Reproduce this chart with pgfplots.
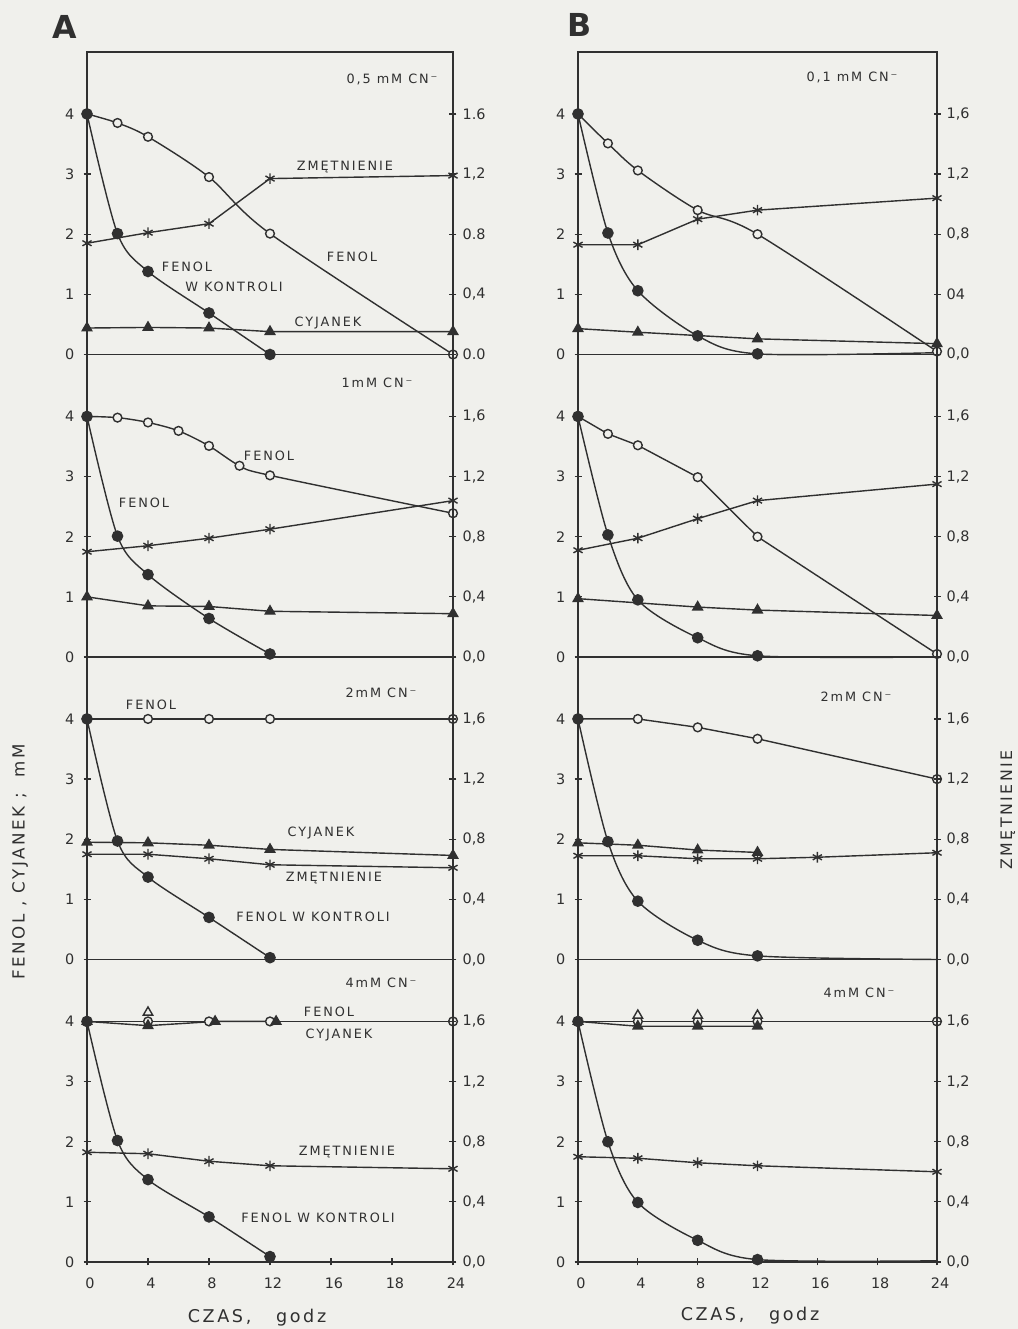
\documentclass[border=0pt]{standalone}
\usepackage{fontspec}
\setmainfont{DejaVu Sans}
\newfontfamily\lett[LetterSpace=15]{DejaVu Sans}
\usepackage{pgfplots}
\pgfplotsset{compat=1.18}
\definecolor{ink}{RGB}{48,48,48}
\definecolor{paper}{RGB}{240,240,236}
\newcommand\lab{\lett\fontsize{7.3}{8}\selectfont}
\newcommand\tlab{\fontsize{8.2}{9}\selectfont}

\pgfplotsset{
  panel/.style={scale only axis, anchor=south west, height=60.5mm,
    xmin=0, xmax=24, ymin=0, ymax=5.03, clip=false,
    axis line style={ink, line width=0.8pt},
    every tick/.style={ink, line width=0.7pt},
    tick align=center, major tick length=1.4mm,
    xtick=\empty, ytick={0,1,2,3,4}, yticklabels={0,1,2,3,4}, ytick pos=left,
    yticklabel style={font=\tlab, text=ink, xshift=-0.6mm},
    xticklabel style={font=\tlab, text=ink, yshift=-1.3mm, xshift=0.6mm}},
  rside/.style={scale only axis, anchor=south west, height=60.5mm,
    xmin=0, xmax=24, ymin=0, ymax=2.012, clip=false,
    axis x line=none, axis y line*=right,
    axis line style={ink, line width=0.8pt},
    every tick/.style={ink, line width=0.7pt},
    tick align=center, major tick length=1.4mm,
    ytick={0,0.4,0.8,1.2,1.6},
    yticklabel style={font=\tlab, text=ink}},
  bottom/.style={xtick={0,4,8,12,16,20,24}, xticklabels={0,4,8,12,16,18,24},
    xtick pos=bottom},
  fen/.style={ink, line width=0.8pt, mark=*, mark size=2.5pt,
    mark options={fill=paper, solid}},
  kon/.style={ink, line width=0.8pt, mark=*, mark size=2.9pt,
    mark options={fill=ink}},
  cyj/.style={ink, line width=0.8pt, mark=triangle*, mark size=3.1pt,
    mark options={fill=ink}},
  zm/.style={ink, line width=0.8pt, mark=asterisk, mark size=3pt},
}

\begin{document}
\begin{tikzpicture}
\path[use as bounding box, fill=paper] (0,0) rectangle (203.6mm,265.8mm);

% ---------- column A ----------
% 0,5 mM
\begin{axis}[panel, at={(17.4mm,194.9mm)}, width=73.2mm]
  \addplot[fen, smooth] coordinates {(0,4)(2,3.85)(4,3.62)(8,2.95)(12,2.01)(24,0.0)};
  \addplot[cyj] coordinates {(0,0.44)(4,0.45)(8,0.44)(12,0.38)(24,0.38)};
  \addplot[kon, smooth] coordinates {(0,4)(2,2.01)(4,1.38)(8,0.69)(12,0.0)};
\end{axis}
\begin{axis}[rside, at={(17.4mm,194.9mm)}, width=73.2mm,
    yticklabels={0.0,{0,4},0.8,{1,2},1.6}]
  \addplot[zm] coordinates {(0,0.74)(4,0.81)(8,0.87)(12,1.17)(24,1.19)};
\end{axis}
% 1 mM
\begin{axis}[panel, at={(17.4mm,134.4mm)}, width=73.2mm]
  \addplot[fen, smooth] coordinates {(0,4)(2,3.98)(4,3.9)(6,3.76)(8,3.51)(10,3.18)(12,3.02)(24,2.39)};
  \addplot[cyj] coordinates {(0,1.0)(4,0.85)(8,0.84)(12,0.76)(24,0.72)};
  \addplot[kon, smooth] coordinates {(0,4)(2,2.01)(4,1.37)(8,0.64)(12,0.05)};
\end{axis}
\begin{axis}[rside, at={(17.4mm,134.4mm)}, width=73.2mm,
    yticklabels={{0,0},{0,4},{0,8},{1,2},{1,6}}]
  \addplot[zm] coordinates {(0,0.70)(4,0.74)(8,0.79)(12,0.85)(24,1.04)};
\end{axis}
% 2 mM
\begin{axis}[panel, at={(17.4mm,73.9mm)}, width=73.2mm]
  \addplot[fen] coordinates {(0,4)(4,4)(8,4)(12,4)(24,4)};
  \addplot[cyj] coordinates {(0,1.95)(4,1.94)(8,1.90)(12,1.83)(24,1.73)};
  \addplot[kon, smooth] coordinates {(0,4)(2,1.97)(4,1.37)(8,0.70)(12,0.03)};
\end{axis}
\begin{axis}[rside, at={(17.4mm,73.9mm)}, width=73.2mm,
    yticklabels={{0,0},{0,4},{0,8},{1,2},{1,6}}]
  \addplot[zm] coordinates {(0,0.70)(4,0.70)(8,0.67)(12,0.63)(24,0.61)};
\end{axis}
% 4 mM
\begin{axis}[panel, bottom, at={(17.4mm,13.4mm)}, width=73.2mm]
  \addplot[fen] coordinates {(0,4)(4,4)(8,4)(12,4)(24,4)};
  \addplot[cyj] coordinates {(0,4)(4,3.93)(8.4,4)(12.4,4)};
  \addplot[cyj, only marks, mark options={fill=paper}] coordinates {(4,4.15)};
  \addplot[kon, smooth] coordinates {(0,4)(2,2.02)(4,1.37)(8,0.75)(12,0.09)};
\end{axis}
\begin{axis}[rside, at={(17.4mm,13.4mm)}, width=73.2mm,
    yticklabels={{0,0},{0,4},{0,8},{1,2},{1,6}}]
  \addplot[zm] coordinates {(0,0.73)(4,0.72)(8,0.67)(12,0.64)(24,0.62)};
\end{axis}

% ---------- column B ----------
% 0,1 mM
\begin{axis}[panel, at={(115.6mm,194.9mm)}, width=71.8mm]
  \addplot[fen, smooth] coordinates {(0,4)(2,3.51)(4,3.06)(8,2.40)(12,2.0)(24,0.05)};
  \addplot[cyj] coordinates {(0,0.43)(4,0.37)(12,0.26)(24,0.18)};
  \addplot[kon, smooth, mark indices={1,2,3,4,5}] coordinates {(0,4)(2,2.02)(4,1.06)(8,0.31)(12,0.01)(24,0.03)};
\end{axis}
\begin{axis}[rside, at={(115.6mm,194.9mm)}, width=71.8mm,
    yticklabels={{0,0},04,{0,8},{1,2},{1,6}}]
  \addplot[zm] coordinates {(0,0.73)(4,0.73)(8,0.90)(12,0.96)(24,1.04)};
\end{axis}
% 1 mM
\begin{axis}[panel, at={(115.6mm,134.4mm)}, width=71.8mm]
  \addplot[fen] coordinates {(0,4)(2,3.71)(4,3.52)(8,2.99)(12,2.0)(24,0.05)};
  \addplot[cyj] coordinates {(0,0.97)(8,0.83)(12,0.78)(24,0.69)};
  \addplot[kon, smooth, mark indices={1,2,3,4,5}] coordinates {(0,4)(2,2.03)(4,0.95)(8,0.32)(12,0.02)(24,0.0)};
\end{axis}
\begin{axis}[rside, at={(115.6mm,134.4mm)}, width=71.8mm,
    yticklabels={{0,0},{0,4},{0,8},{1,2},{1,6}}]
  \addplot[zm] coordinates {(0,0.71)(4,0.79)(8,0.92)(12,1.04)(24,1.15)};
\end{axis}
% 2 mM
\begin{axis}[panel, at={(115.6mm,73.9mm)}, width=71.8mm]
  \addplot[fen] coordinates {(0,4)(4,4.0)(8,3.86)(12,3.67)(24,3.0)};
  \addplot[cyj] coordinates {(0,1.94)(4,1.9)(8,1.82)(12,1.78)};
  \addplot[kon, smooth, mark indices={1,2,3,4,5}] coordinates {(0,4)(2,1.96)(4,0.97)(8,0.32)(12,0.06)(24,0.0)};
\end{axis}
\begin{axis}[rside, at={(115.6mm,73.9mm)}, width=71.8mm,
    yticklabels={{0,0},{0,4},{0,8},{1,2},{1,6}}]
  \addplot[zm] coordinates {(0,0.69)(4,0.69)(8,0.67)(12,0.67)(16,0.68)(24,0.71)};
\end{axis}
% 4 mM
\begin{axis}[panel, bottom, at={(115.6mm,13.4mm)}, width=71.8mm]
  \addplot[fen] coordinates {(0,4)(4,4)(8,4)(12,4)(24,4)};
  \addplot[cyj] coordinates {(0,4)(4,3.92)(8,3.92)(12,3.92)};
  \addplot[cyj, only marks, mark options={fill=paper}] coordinates {(4,4.1)(8,4.1)(12,4.1)};
  \addplot[kon, smooth, mark indices={1,2,3,4,5}] coordinates {(0,4)(2,2.0)(4,0.99)(8,0.36)(12,0.04)(24,0.02)};
\end{axis}
\begin{axis}[rside, at={(115.6mm,13.4mm)}, width=71.8mm,
    yticklabels={{0,0},{0,4},{0,8},{1,2},{1,6}}]
  \addplot[zm] coordinates {(0,0.70)(4,0.69)(8,0.66)(12,0.64)(24,0.60)};
\end{axis}

% ---------- texts (pixel grid of the reference, y from the top) ----------
\begin{scope}[x=0.2mm, y=-0.2mm, shift={(0,265.8mm)}, every node/.style={text=ink, inner sep=0pt}]
  \node[font=\bfseries\fontsize{18}{18}\selectfont] at (65,27) {A};
  \node[font=\bfseries\fontsize{18}{18}\selectfont] at (580,25) {B};

  \node[font=\lab] at (392,80) {0,5 mM CN⁻};
  \node[font=\lab] at (345,167) {ZMĘTNIENIE};
  \node[font=\lab] at (352,257) {FENOL};
  \node[font=\lab] at (187,267) {FENOL};
  \node[font=\lab] at (234,287) {W KONTROLI};
  \node[font=\lab] at (328,323) {CYJANEK};

  \node[font=\lab] at (377,383) {1mM CN⁻};
  \node[font=\lab] at (269,456) {FENOL};
  \node[font=\lab] at (144,503) {FENOL};

  \node[font=\lab] at (381,693) {2mM CN⁻};
  \node[font=\lab] at (151,705) {FENOL};
  \node[font=\lab] at (321,833) {CYJANEK};
  \node[font=\lab] at (334,878) {ZMĘTNIENIE};
  \node[font=\lab] at (313,917) {FENOL W KONTROLI};

  \node[font=\lab] at (381,983) {4mM CN⁻};
  \node[font=\lab] at (329,1012) {FENOL};
  \node[font=\lab] at (339,1035) {CYJANEK};
  \node[font=\lab] at (347,1152) {ZMĘTNIENIE};
  \node[font=\lab] at (318,1218) {FENOL W KONTROLI};

  \node[font=\lab] at (852,78) {0,1 mM CN⁻};
  \node[font=\lab] at (856,697) {2mM CN⁻};
  \node[font=\lab] at (859,993) {4mM CN⁻};

  \node[font=\lett\fontsize{10}{11}\selectfont] at (257,1318) {CZAS,\ \ \ godz};
  \node[font=\lett\fontsize{10}{11}\selectfont] at (750,1316) {CZAS,\ \ \ godz};
  \node[font=\lett\fontsize{9.5}{10}\selectfont, rotate=90] at (20,862) {FENOL , CYJANEK ;\ \ mM};
  \node[font=\lett\fontsize{9}{10}\selectfont, rotate=90] at (1008,810) {ZMĘTNIENIE};
\end{scope}
\end{tikzpicture}
\end{document}
